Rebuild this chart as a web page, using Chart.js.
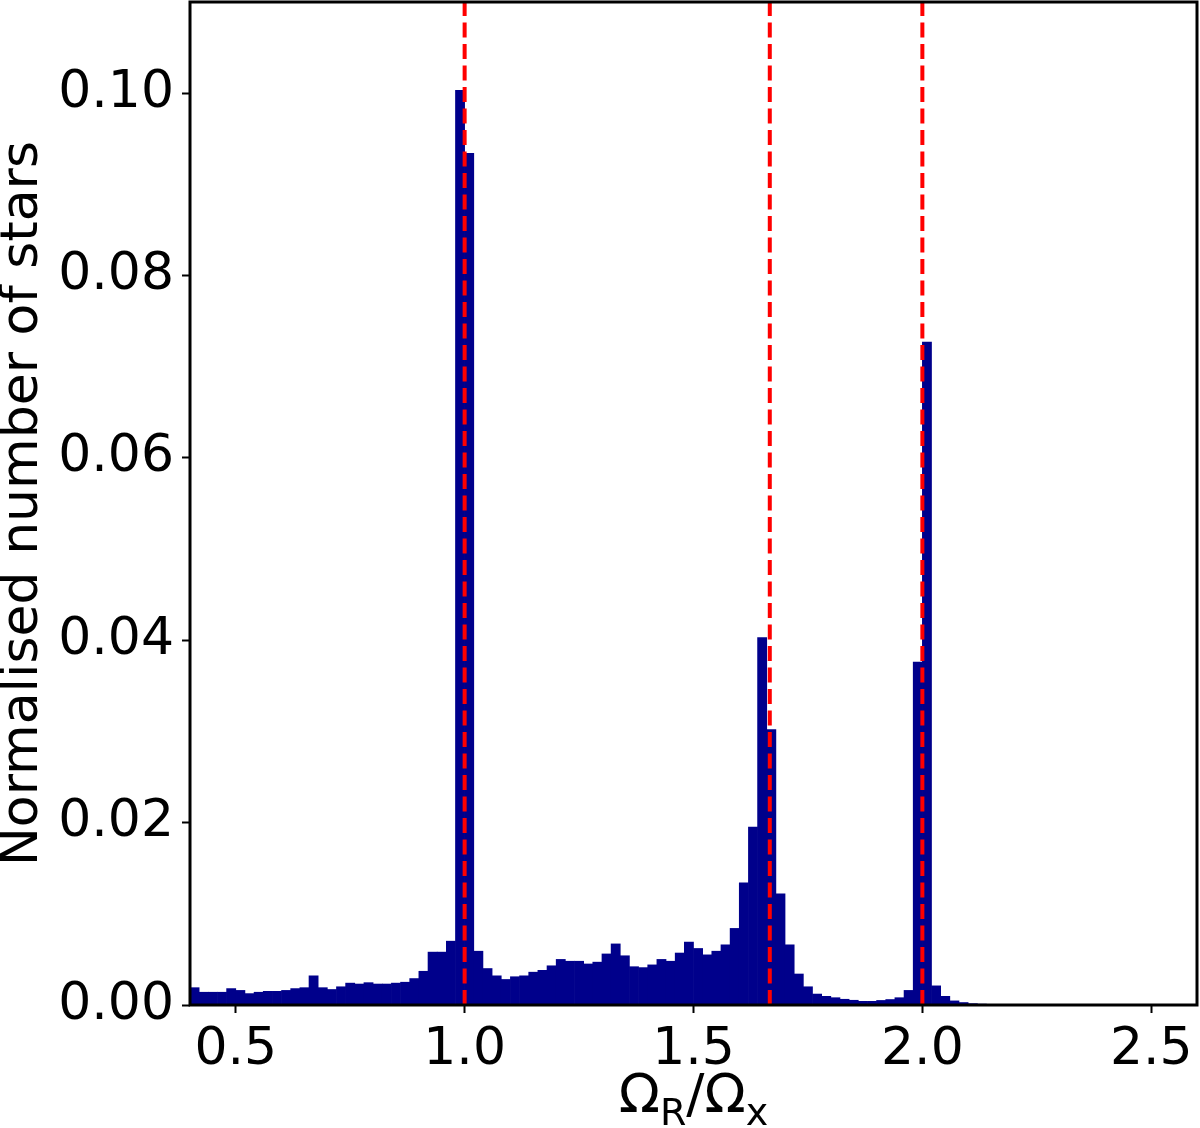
<!DOCTYPE html>
<html>
<head>
<meta charset="utf-8">
<script src="https://cdn.jsdelivr.net/npm/chart.js@4.4.1/dist/chart.umd.min.js"></script>
<style>
  html, body { margin: 0; padding: 0; background: #fff; }
</style>
</head>
<body>
<canvas id="histChart" width="1200" height="1128"></canvas>
<script>
// histogram bins: 0.40 .. 2.60, width 0.02
const binStart = 0.4;
const binWidth = 0.02;
const counts = [
  0.0019, 0.0014, 0.0014, 0.0014, 0.0018, 0.0016, 0.00125, 0.0014, 0.0015, 0.0015,
  0.0016, 0.0018, 0.0019, 0.0032, 0.0019, 0.0017, 0.0020, 0.0024, 0.0023, 0.00245,
  0.0023, 0.0023, 0.0024, 0.0025, 0.0029, 0.0037, 0.0058, 0.0058, 0.0070, 0.1003,
  0.0934, 0.0059, 0.0040, 0.0032, 0.0028, 0.0031, 0.0032, 0.0036, 0.0038, 0.0043,
  0.0050, 0.0048, 0.0048, 0.0045, 0.0047, 0.0056, 0.0067, 0.0054, 0.0042, 0.0041,
  0.0044, 0.0050, 0.0048, 0.0057, 0.0069, 0.0062, 0.0055, 0.0059, 0.0066, 0.0084,
  0.0134, 0.0195, 0.0403, 0.0302, 0.0122, 0.0066, 0.0034, 0.0020, 0.0012, 0.00095,
  0.0008, 0.00063, 0.00052, 0.0004, 0.0004, 0.0005, 0.0006, 0.0008, 0.0016, 0.0376,
  0.0727, 0.0021, 0.00095, 0.00045, 0.00027, 0.00015, 0.0001, 0.00006, 0.00004, 0.00003,
  0.00002, 0, 0, 0, 0, 0, 0, 0, 0, 0,
  0, 0, 0, 0, 0, 0, 0, 0, 0, 0
];
// resonance ratios marked with dashed lines
const resonances = [1.0, 5 / 3, 2.0];
const xTicks = [0.5, 1.0, 1.5, 2.0, 2.5];
const yTicks = [0.00, 0.02, 0.04, 0.06, 0.08, 0.10];
const xRange = [0.4, 2.6];
const yRange = [0, 0.11];

const font = '"DejaVu Sans", sans-serif';

// box round the plot area, on top of the bars
const frame = {
  id: 'frame',
  afterDatasetsDraw(chart) {
    const { ctx, chartArea: a } = chart;
    ctx.save();
    ctx.strokeStyle = '#000';
    ctx.lineWidth = 3;
    ctx.strokeRect(a.left, a.top, a.right - a.left, a.bottom - a.top);
    ctx.restore();
  }
};

// x title with subscripts: Omega_R / Omega_x
const xTitle = {
  id: 'xTitle',
  afterDraw(chart) {
    const { ctx, chartArea: a } = chart;
    const big = 54, small = 38;
    const parts = [['Ω', big, 0], ['R', small, 13], ['/', big, 0], ['Ω', big, 0], ['x', small, 13]];
    ctx.save();
    ctx.fillStyle = '#000';
    ctx.textBaseline = 'alphabetic';
    let total = 0;
    parts.forEach(p => { ctx.font = p[1] + 'px ' + font; total += ctx.measureText(p[0]).width; });
    let x = (a.left + a.right) / 2 - total / 2;
    const base = chart.height - 16;
    parts.forEach(p => {
      ctx.font = p[1] + 'px ' + font;
      ctx.fillText(p[0], x, base + p[2]);
      x += ctx.measureText(p[0]).width;
    });
    ctx.restore();
  }
};

const datasets = resonances.map(r => ({
  type: 'line',
  data: [{ x: r, y: yRange[0] }, { x: r, y: yRange[1] }],
  borderColor: '#ff0000',
  borderWidth: 4,
  borderDash: [15, 6.5],
  pointRadius: 0,
  order: 0
}));
datasets.push({
  type: 'bar',
  data: counts.map((v, i) => ({ x: binStart + binWidth * (i + 0.5), y: v })),
  backgroundColor: '#00008b',
  borderWidth: 0,
  barPercentage: 1,
  categoryPercentage: 1,
  order: 1
});

const ctx = document.getElementById('histChart').getContext('2d');
new Chart(ctx, {
  data: { datasets: datasets },
  options: {
    responsive: false,
    devicePixelRatio: 1,
    animation: false,
    layout: { padding: { left: 0, right: 3, top: 2, bottom: 0 } },
    plugins: { legend: { display: false }, tooltip: { enabled: false } },
    scales: {
      x: {
        type: 'linear',
        min: xRange[0],
        max: xRange[1],
        offset: false,
        afterBuildTicks: s => { s.ticks = xTicks.map(v => ({ value: v })); },
        afterFit: s => { s.height = 123; s.paddingLeft = 0; s.paddingRight = 0; },
        ticks: {
          color: '#000',
          font: { family: font, size: 52 },
          padding: 6,
          maxRotation: 0,
          callback: v => v.toFixed(1)
        },
        grid: { offset: false, drawOnChartArea: false, drawTicks: true, tickLength: 8, tickWidth: 2, tickColor: '#000' },
        border: { display: false }
      },
      y: {
        type: 'linear',
        min: yRange[0],
        max: yRange[1],
        afterBuildTicks: s => { s.ticks = yTicks.map(v => ({ value: v })); },
        afterFit: s => { s.width = 190; s.paddingTop = 0; s.paddingBottom = 0; },
        ticks: {
          color: '#000',
          font: { family: font, size: 52 },
          padding: 8,
          callback: v => v.toFixed(2)
        },
        grid: { drawOnChartArea: false, drawTicks: true, tickLength: 8, tickWidth: 2, tickColor: '#000' },
        border: { display: false },
        title: {
          display: true,
          text: 'Normalised number of stars',
          color: '#000',
          font: { family: font, size: 52, lineHeight: 0.92 },
          padding: 0
        }
      }
    }
  },
  plugins: [frame, xTitle]
});
</script>
</body>
</html>
